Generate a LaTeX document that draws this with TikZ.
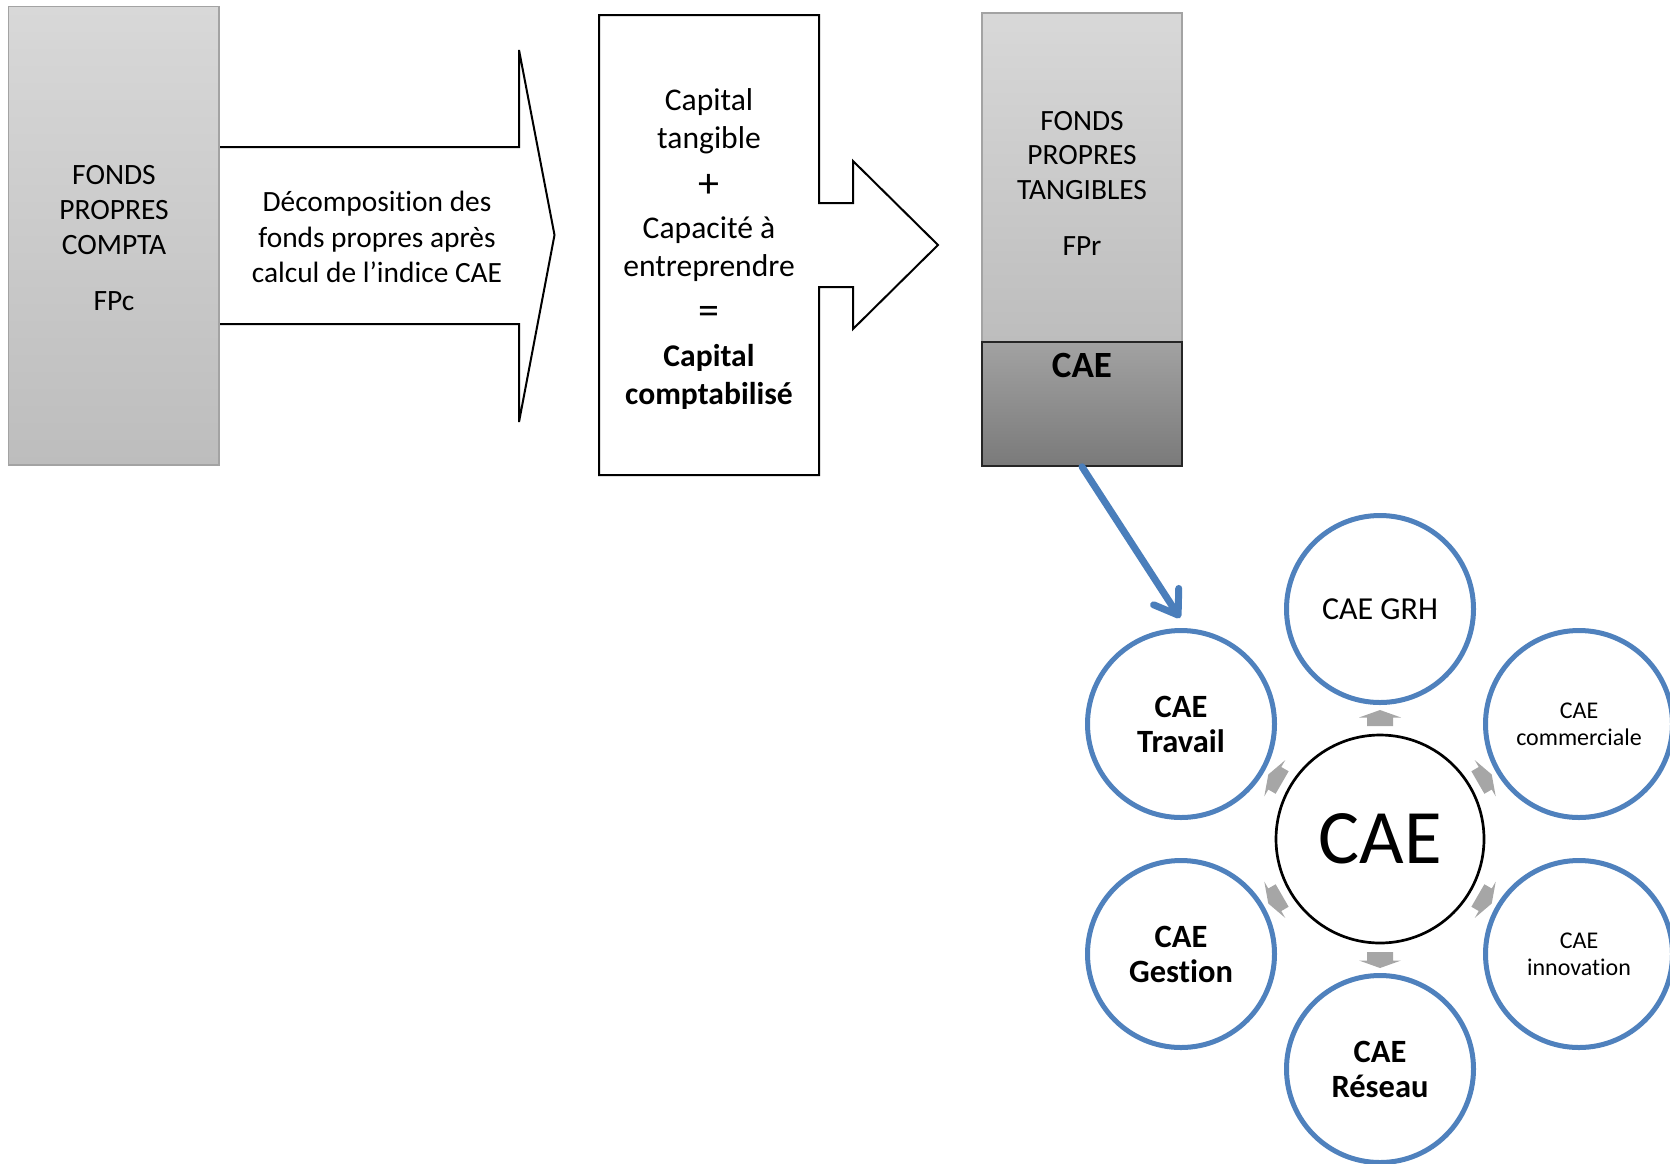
\documentclass[tikz,border=0pt]{standalone}
\usepackage{fontspec}
\setmainfont{Carlito}[Ligatures=NoCommon]
\usetikzlibrary{arrows.meta,shapes.geometric}
\definecolor{cblue}{HTML}{4F81BD}
\definecolor{ablue}{HTML}{4A7EBB}
\definecolor{cgray}{HTML}{A6A6A6}
\definecolor{bordergray}{HTML}{A3A3A3}
\definecolor{lighttop}{HTML}{D8D8D8}
\definecolor{lightbot}{HTML}{BDBDBD}
\definecolor{darktop}{HTML}{A2A2A2}
\definecolor{darkbot}{HTML}{7A7A7A}
\tikzset{
  graybox/.style={rectangle, draw=bordergray, line width=1.5pt, top color=lighttop, bottom color=lightbot, inner sep=0pt},
  darkbox/.style={rectangle, draw=black!85, line width=1.5pt, top color=darktop, bottom color=darkbot, inner sep=0pt},
  txt/.style={align=center, inner sep=0pt, text=black},
  sat/.style={circle, draw=cblue, line width=5pt, fill=white, minimum size=187pt, inner sep=0pt, align=center},
  hub/.style={circle, draw=black, line width=2.7pt, fill=white, minimum size=208pt, inner sep=0pt},
  smallarrow/.style={fill=cgray},
  bluearrow/.style={draw=ablue, line width=7pt, line cap=round, -{Straight Barb[length=22pt,width=30pt,round]}},
  outline/.style={draw=black, line width=2pt, fill=white},
}
\newcommand{\bigsym}[1]{{\fontsize{42}{38.3}\selectfont #1}}
\begin{document}
\begin{tikzpicture}[x=1pt,y=-1pt]
\useasboundingbox (0,0) rectangle (1670,1163);
\begin{scope}
\clip (0,0) rectangle (1670,1163);

% left block arrow
\fill[white] (219,147) -- (519,147) -- (519,50) -- (554.5,235) -- (519,422) -- (519,324) -- (219,324) -- cycle;
\draw[line width=2pt] (219,147) -- (519,147) -- (519,50) -- (554.5,235) -- (519,422) -- (519,324) -- (219,324);

% FPc box
\node[graybox, minimum width=210.5pt, minimum height=458.5pt] (fpc) at (113.75,235.75) {};
\node[txt, font=\fontsize{29.5}{35}\selectfont] (fpctext) at (114,238) {FONDS\\PROPRES\\COMPTA\\[21pt]FPc};

% text of the left arrow
\node[txt, font=\fontsize{29.4}{35.6}\selectfont] (dectext) at (377,237) {Décomposition des\\fonds propres après\\calcul de l’indice CAE};

% middle box with right arrow
\draw[outline] (599,15) -- (819,15) -- (819,203) -- (853,203) -- (853,161) -- (938,245) -- (853,329) -- (853,287) -- (819,287) -- (819,475) -- (599,475) -- cycle;
\node[txt, font=\fontsize{31.6}{38.3}\selectfont] (mid) at (709,249) {Capital\\tangible\\[10.7pt]\bigsym{+}\\[2.2pt]Capacité à\\entreprendre\\[9.6pt]\bigsym{=}\\[3.2pt]\textbf{Capital}\\\textbf{comptabilisé}};

% FPr box
\node[graybox, minimum width=200pt, minimum height=329pt] (fpr) at (1082,177.5) {};
\node[darkbox, minimum width=200pt, minimum height=124pt] (cae) at (1082,404) {};
\node[txt, font=\fontsize{29.4}{34.5}\selectfont] (fprtext) at (1082,183.4) {FONDS\\PROPRES\\TANGIBLES\\[22pt]FPr};
\node[txt, font=\fontsize{37}{40}\selectfont\bfseries] (caelabel) at (1082,365.8) {CAE};

% small gray arrows
\foreach \a in {90,30,-30,-90,-150,150}{
  \fill[smallarrow, shift={(1380,839)}, rotate=\a] (113,-13) -- (121.5,-13) -- (121.5,-21) -- (129,0) -- (121.5,21) -- (121.5,13) -- (113,13) -- cycle;
}

% circles
\node[hub, font=\fontsize{77}{90}\selectfont] (hubc) at (1380,839) {CAE};
\node[sat, font=\fontsize{32}{36}\selectfont] (grh) at (1380,609) {CAE GRH};
\node[sat, font=\fontsize{24}{27}\selectfont] (com) at (1579,724) {CAE\\commerciale};
\node[sat, font=\fontsize{24}{27}\selectfont] (inn) at (1579,954) {CAE\\innovation};
\node[sat, font=\fontsize{32.5}{35}\selectfont\bfseries] (res) at (1380,1069) {CAE\\Réseau};
\node[sat, font=\fontsize{32.5}{35}\selectfont\bfseries] (ges) at (1181,954) {CAE\\Gestion};
\node[sat, font=\fontsize{32.5}{35}\selectfont\bfseries] (trav) at (1181,724) {CAE\\Travail};

% blue arrow
\coordinate (tip) at (1180,618);
\draw[bluearrow] (cae.south) -- (tip);
\end{scope}
\end{tikzpicture}
\end{document}
